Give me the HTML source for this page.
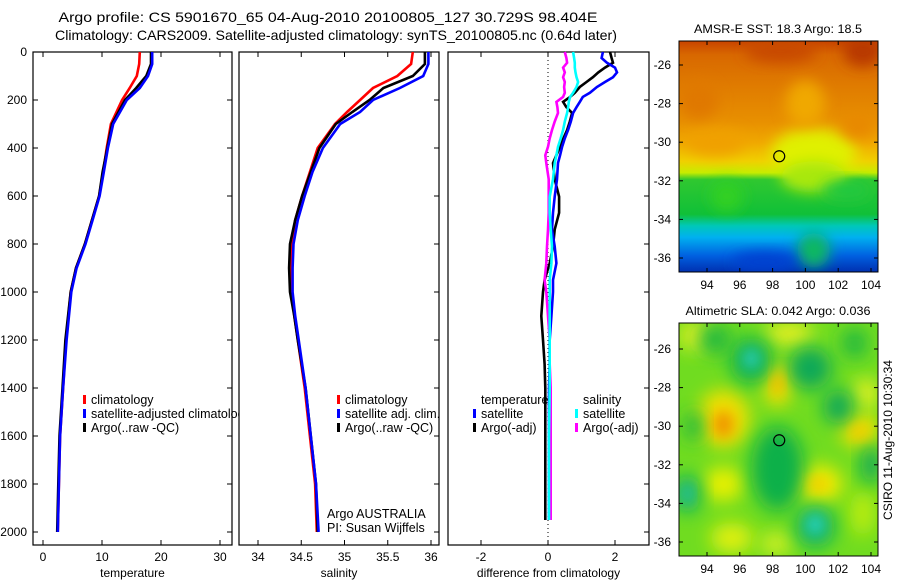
<!DOCTYPE html>
<html><head><meta charset="utf-8"><style>
html,body{margin:0;padding:0;background:#fff;}
svg{display:block;font-family:"Liberation Sans",sans-serif;}
text{font-size:12px;fill:#000;}
</style></head><body>
<svg id="fig" width="900" height="580" viewBox="0 0 900 580" xmlns="http://www.w3.org/2000/svg">
<defs>
<filter id="blur1" x="-50%" y="-50%" width="200%" height="200%"><feGaussianBlur stdDeviation="7"/></filter>
<filter id="blur2" x="-50%" y="-50%" width="200%" height="200%"><feGaussianBlur stdDeviation="9"/></filter>
<clipPath id="clipM1"><rect x="679" y="41" width="199" height="231"/></clipPath>
<clipPath id="clipM2"><rect x="679" y="323" width="199" height="233"/></clipPath>
<clipPath id="clipLeg1"><rect x="0" y="380" width="239" height="60"/></clipPath>
<linearGradient id="sstGrad" x1="0" y1="41" x2="0" y2="272" gradientUnits="userSpaceOnUse">
<stop offset="0" stop-color="#c84400"/><stop offset="0.06" stop-color="#d86800"/>
<stop offset="0.2" stop-color="#e07c00"/><stop offset="0.35" stop-color="#e89000"/><stop offset="0.44" stop-color="#f0a800"/>
<stop offset="0.52" stop-color="#f0d000"/><stop offset="0.57" stop-color="#c8ec00"/>
<stop offset="0.6" stop-color="#30c830"/><stop offset="0.75" stop-color="#10c038"/>
<stop offset="0.8" stop-color="#00c8b8"/><stop offset="0.85" stop-color="#00b0f0"/>
<stop offset="0.93" stop-color="#0060e0"/><stop offset="1" stop-color="#0030b0"/>
</linearGradient>
</defs>
<text x="328" y="22" text-anchor="middle" textLength="539" lengthAdjust="spacingAndGlyphs" style="font-size:14px">Argo profile: CS 5901670_65 04-Aug-2010 20100805_127 30.729S 98.404E</text>
<text x="336" y="40" text-anchor="middle" textLength="562" lengthAdjust="spacingAndGlyphs" style="font-size:14px">Climatology: CARS2009. Satellite-adjusted climatology: synTS_20100805.nc (0.64d later)</text>
<g id="plots"></g>
</svg>
<script>
// ---- data ----
const depthTicks = [0,200,400,600,800,1000,1200,1400,1600,1800,2000];
const tempTicks = [0,10,20,30];
const salTicks = [34,34.5,35,35.5,36];
const diffTicks = [-2,0,2];
const tDepth = [0,50,100,150,200,300,400,500,600,700,800,900,1000,1200,1400,1600,1800,2000];
const tClim = [16.4,16.3,15.9,14.7,13.4,11.5,10.8,10.2,9.5,8.3,7.1,5.6,4.7,3.9,3.4,2.9,2.7,2.5];
const tSat  = [18.5,18.5,17.8,16.4,14.2,11.9,11.0,10.3,9.6,8.4,7.2,5.7,4.8,4.0,3.4,2.9,2.7,2.5];
const tArgo = [18.3,18.3,17.5,15.8,13.9,11.7,10.9,10.1,9.5,8.3,7.1,5.6,4.7,3.8,3.3,2.8,2.6,2.4];
const sDepth = [0,50,100,150,200,250,300,400,500,600,700,800,900,1000,1100,1200,1400,1600,1800,2000];
const sClim = [35.79,35.77,35.61,35.33,35.18,35.03,34.89,34.69,34.60,34.51,34.43,34.39,34.38,34.39,34.42,34.46,34.54,34.60,34.66,34.68];
const sSat  = [35.97,35.97,35.91,35.64,35.33,35.18,34.95,34.75,34.63,34.54,34.46,34.41,34.40,34.40,34.43,34.47,34.55,34.61,34.67,34.70];
const sArgo = [35.93,35.93,35.79,35.45,35.29,35.09,34.90,34.71,34.61,34.51,34.43,34.37,34.36,34.37,34.42,34.46,34.55,34.61,34.67,34.69];
const dDepth = [0,25,45,65,85,105,125,146,170,187,208,230,254,290,325,360,395,430,463,530,603,670,740,810,880,950,1000,1100,1200,1300,1400,1600,1800,1950];
const dTSat  = [1.64,1.6,1.76,2.0,2.06,1.94,1.7,1.46,1.25,1.04,0.95,0.85,0.75,0.68,0.6,0.5,0.42,0.36,0.3,0.27,0.2,0.15,0.12,0.2,0.25,0.15,0.15,0.1,0.05,0.05,0.03,0.03,0.03,0.03];
const dTArgo = [1.85,1.9,1.94,1.7,1.5,1.34,1.15,0.95,0.8,0.66,0.45,0.55,0.72,0.65,0.57,0.46,0.36,0.25,0.15,0.2,0.33,0.33,0.2,0.15,0.05,-0.1,-0.15,-0.2,-0.15,-0.1,-0.08,-0.08,-0.08,-0.08];
const dSSat  = [0.75,0.78,0.8,0.8,0.82,0.85,0.9,0.85,0.75,0.66,0.62,0.6,0.57,0.5,0.45,0.38,0.3,0.25,0.2,0.15,0.05,0.05,0.08,0.12,0.1,0.05,0.05,0.05,0.05,0.05,0.05,0.03,0.03,0.03];
const dSArgo = [0.5,0.55,0.57,0.45,0.5,0.45,0.5,0.48,0.5,0.45,0.25,0.28,0.3,0.2,0.12,0.05,0,-0.08,-0.05,0.02,0.02,0.02,0,-0.03,-0.05,-0.1,-0.05,0,0.05,0.05,0.08,0.08,0.08,0.08];
const lonTicks = [94,96,98,100,102,104];
const latTicks = [-26,-28,-30,-32,-34,-36];
const argoLon = 98.404, argoLat = -30.729;

// ---- helpers ----
const NS = "http://www.w3.org/2000/svg";
const root = document.getElementById('plots');
function el(tag, attrs, parent, txt){
  const e = document.createElementNS(NS, tag);
  for (const k in attrs) e.setAttribute(k, attrs[k]);
  if (txt !== undefined) e.textContent = txt;
  (parent||root).appendChild(e); return e;
}
const yD = d => 52 + d*0.24;
const panels = [
  {x0:33,x1:232,fx:v=>43+v*5.9,ticks:tempTicks,label:'temperature',name:'temperature-panel'},
  {x0:239,x1:439,fx:v=>258+(v-34)*86.5,ticks:salTicks,label:'salinity',name:'salinity-panel'},
  {x0:448,x1:649,fx:v=>548+v*33.5,ticks:diffTicks,label:'difference from climatology',name:'difference-panel'}
];
panels.forEach((p,i)=>{
  const g = el('g',{});
  
  
  const fr = el('rect',{x:p.x0,y:52,width:p.x1-p.x0,height:493,fill:'none',stroke:'#000','stroke-width':1.2},g);
  
  
  p.ticks.forEach(t=>{
    const x = p.fx(t);
    el('line',{x1:x,y1:545,x2:x,y2:540,stroke:'#000'},g);
    el('line',{x1:x,y1:52,x2:x,y2:57,stroke:'#000'},g);
    const tl = el('text',{x:x,y:561,'text-anchor':'middle'},g,String(t));
    
    
  });
  depthTicks.forEach(d=>{
    const y = yD(d);
    el('line',{x1:p.x1,y1:y,x2:p.x1-5,y2:y,stroke:'#000'},g);
    if (i===0){
      el('line',{x1:p.x0,y1:y,x2:p.x0+5,y2:y,stroke:'#000'},g);
      const yl = el('text',{x:27,y:y+4,'text-anchor':'end'},g,String(d));
      
      
    }
  });
  const xt = el('text',{x:(p.x0+p.x1)/2,y:577,'text-anchor':'middle'},g,p.label);
  
  
});
function series(p, depth, vals, color, name, w){
  const pts = vals.map((v,k)=>p.fx(v).toFixed(1)+','+yD(depth[k]).toFixed(1)).join(' ');
  const pl = el('polyline',{points:pts,fill:'none',stroke:color,'stroke-width':w||2.6,'stroke-linejoin':'miter'});
  
  
}
el('line',{x1:548,y1:52,x2:548,y2:545,stroke:'#000','stroke-dasharray':'1,3','stroke-width':1});
series(panels[0], tDepth, tClim, '#f00', 'temp-climatology-line');
series(panels[0], tDepth, tArgo, '#000', 'temp-argo-line');
series(panels[0], tDepth, tSat, '#00f', 'temp-satellite-line');
series(panels[1], sDepth, sClim, '#f00', 'sal-climatology-line');
series(panels[1], sDepth, sArgo, '#000', 'sal-argo-line');
series(panels[1], sDepth, sSat, '#00f', 'sal-satellite-line');
series(panels[2], dDepth, dTArgo, '#000', 'diff-temp-argo-line');
series(panels[2], dDepth, dTSat, '#00f', 'diff-temp-satellite-line');
series(panels[2], dDepth, dSArgo, '#f0f', 'diff-sal-argo-line');
series(panels[2], dDepth, dSSat, '#0ff', 'diff-sal-satellite-line');

function legend(x, y, entries, name, clip){
  const g = el('g',clip?{'clip-path':'url(#'+clip+')'}:{});
  
  
  entries.forEach((e,k)=>{
    const yy = y + k*14;
    if (e.c){ const r = el('rect',{x:x,y:yy-9,width:3,height:9,fill:e.c},g);
        }
    const t = el('text',{x:x+8,y:yy,style:'font-size:12.5px'},g,e.t);
    
    
  });
}
legend(83,404,[{t:'climatology',c:'#f00'},{t:'satellite-adjusted climatology',c:'#00f'},{t:'Argo(..raw -QC)',c:'#000'}],'temperature-legend','clipLeg1');
legend(337,404,[{t:'climatology',c:'#f00'},{t:'satellite adj. clim.',c:'#00f'},{t:'Argo(..raw -QC)',c:'#000'}],'salinity-legend');
legend(473,404,[{t:'temperature'},{t:'satellite',c:'#00f'},{t:'Argo(-adj)',c:'#000'}],'diff-temp-legend');
legend(575,404,[{t:'salinity'},{t:'satellite',c:'#0ff'},{t:'Argo(-adj)',c:'#f0f'}],'diff-sal-legend');
const cr1 = el('text',{x:327,y:518,style:'font-size:12.5px'},root,'Argo AUSTRALIA');
 
const cr2 = el('text',{x:327,y:532,style:'font-size:12.5px'},root,'PI: Susan Wijffels');
 

// ---- maps ----
const mx = lon => 707 + (lon-94)*16.4;
const my1 = lat => 65 + (-26-lat)*19.3;
const my2 = lat => 349 + (-26-lat)*19.3;
function blob(g, lon, lat, rx, ry, color, myf, filt){
  el('ellipse',{cx:mx(lon),cy:myf(lat),rx:rx*16.4,ry:ry*19.3,fill:color,filter:'url(#'+filt+')'},g);
}
const m1 = el('g',{'clip-path':'url(#clipM1)'});


el('rect',{x:679,y:41,width:199,height:231,fill:'url(#sstGrad)'},m1);
[[100.5,-30.6,2.6,1.3,'#e0f000'],[100.5,-31.8,2,0.8,'#a8e810'],[94.5,-30,1.8,0.7,'#f0a000'],
 [98.5,-25.3,2.2,0.6,'#c84800'],[103.5,-25.3,1.2,0.8,'#b83800'],[93.5,-27.8,1.2,1,'#e07800'],
 [100.5,-35.6,1,0.9,'#10b860'],[95.2,-32.8,1,0.8,'#30d020'],[97.5,-36.2,2,0.5,'#0040d0'],
 [102.5,-32.5,1.5,0.5,'#20c840'],[100,-28,1.2,1.2,'#f0a800'],[103.2,-29.2,1,0.6,'#e88800']].forEach(b=>blob(m1,b[0],b[1],b[2],b[3],b[4],my1,'blur1'));
const m2 = el('g',{'clip-path':'url(#clipM2)'});


el('rect',{x:679,y:323,width:199,height:233,fill:'#70dc20'},m2);
[[95,-29.6,1.6,1.5,'#f0e000'],[98.3,-27.8,0.9,1.2,'#f0e000'],[93.3,-25.3,1,0.8,'#e0f020'],[99,-25.2,1.5,0.6,'#e8f020'],
 [103.3,-30.2,1.2,0.9,'#f0e000'],[100.8,-33,1.5,1,'#f0ec00'],[95,-33,1.2,0.9,'#e8f000'],[95.5,-35.8,1.3,0.8,'#e0f010'],
 [103.7,-28.3,0.8,0.8,'#e0f020'],[98.2,-36.1,1,0.6,'#d0f020'],[103.5,-34.5,0.8,1.2,'#b8ec10'],
 [96.7,-26.6,1.3,1.2,'#10b050'],[100.3,-27,1.3,1.1,'#10a858'],[102,-29,0.9,0.9,'#10a858'],[98.3,-32.2,1.6,2.2,'#10b048'],
 [100.6,-35.2,1.2,1.1,'#10b060'],[92.8,-33.5,0.8,1,'#10b060'],[104,-32,0.6,1,'#10a858'],[94.5,-25.5,1,0.8,'#20b840'],
 [103,-25.7,0.8,0.8,'#20b840'],[93.2,-30,0.6,0.8,'#20b840']].forEach(b=>blob(m2,b[0],b[1],b[2],b[3],b[4],my2,'blur2'));
[[95,-29.9,0.6,0.7,'#f09000'],[98.3,-27.8,0.3,0.5,'#f0b000'],[96.7,-26.5,0.5,0.5,'#30d0c0'],
 [100.6,-35.1,0.5,0.5,'#30d8d0'],[92.8,-33.5,0.3,0.5,'#30c8b0'],[103.3,-30.3,0.4,0.3,'#f0c000'],[100.8,-33,0.5,0.3,'#f0c000']].forEach(b=>blob(m2,b[0],b[1],b[2],b[3],b[4],my2,'blur1'));

function mapAxes(y0, y1, myf, title, tlen, name){
  const g = el('g',{});
  
  
  el('rect',{x:679,y:y0,width:199,height:y1-y0,fill:'none',stroke:'#000','stroke-width':1},g);
  lonTicks.forEach(l=>{
    const x = mx(l);
    el('line',{x1:x,y1:y1,x2:x,y2:y1-4,stroke:'#000'},g);
    el('line',{x1:x,y1:y0,x2:x,y2:y0+4,stroke:'#000'},g);
    const t = el('text',{x:x,y:y1+17,'text-anchor':'middle'},g,String(l));
     
  });
  latTicks.forEach(l=>{
    const y = myf(l);
    el('line',{x1:679,y1:y,x2:683,y2:y,stroke:'#000'},g);
    el('line',{x1:878,y1:y,x2:874,y2:y,stroke:'#000'},g);
    const t = el('text',{x:671,y:y+4,'text-anchor':'end'},g,String(l));
     
  });
  const tt = el('text',{x:778,y:y0-8,'text-anchor':'middle',textLength:tlen,lengthAdjust:'spacingAndGlyphs'},g,title);
   
  const c = el('circle',{cx:mx(argoLon),cy:myf(argoLat),r:5.5,fill:'none',stroke:'#000','stroke-width':1.2},g);
   
}
mapAxes(41,272,my1,'AMSR-E SST: 18.3 Argo: 18.5',168,'sst-map-axes');
mapAxes(323,556,my2,'Altimetric SLA: 0.042 Argo: 0.036',185,'sla-map-axes');
const cs = el('text',{x:0,y:0,'text-anchor':'middle',transform:'translate(892,440) rotate(-90)'},root,'CSIRO 11-Aug-2010 10:30:34');


</script>
</body></html>
